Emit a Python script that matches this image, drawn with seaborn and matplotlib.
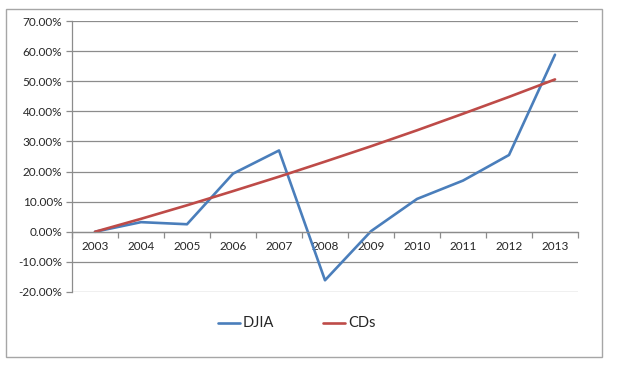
import matplotlib
matplotlib.use("Agg")
import matplotlib.pyplot as plt
import seaborn as sns
import pandas as pd
from matplotlib.patches import Rectangle
from matplotlib.ticker import FuncFormatter, FixedLocator

years = ["2003", "2004", "2005", "2006", "2007", "2008", "2009", "2010", "2011", "2012", "2013"]
djia = [0.0, 3.2, 2.5, 19.3, 27.0, -16.1, 0.2, 10.9, 17.0, 25.5, 58.8]
cds = [0.0, 4.3, 8.8, 13.5, 18.3, 23.3, 28.4, 33.7, 39.2, 44.8, 50.6]
yticks = [-20, -10, 0, 10, 20, 30, 40, 50, 60, 70]

df = pd.DataFrame({
    "year": years * 2,
    "value": djia + cds,
    "series": ["DJIA"] * len(years) + ["CDs"] * len(years),
})

sns.set_theme(style="white")
plt.rcParams["font.family"] = ["Lato", "DejaVu Sans"]

fig = plt.figure(figsize=(6.19, 3.67), dpi=100)
fig.patch.set_facecolor("white")
fig.patches.append(Rectangle((6 / 619, 1 - 357 / 367), 596 / 619, 348 / 367,
                             transform=fig.transFigure, fill=False,
                             edgecolor="#a6a6a6", linewidth=1.0))

ax = fig.add_axes([72 / 619, 1 - 292 / 367, (578 - 72) / 619, (292 - 21) / 367])
grid_c = "#8c8c8c"
for v in yticks:
    ax.axhline(v, color=grid_c, linewidth=0.9, zorder=0)

palette = {"DJIA": "#4a7ebb", "CDs": "#be4b48"}
sns.lineplot(data=df, x="year", y="value", hue="series", palette=palette,
             linewidth=1.9, ax=ax, legend=False, sort=False)

ax.set_xlim(-0.5, len(years) - 0.5)
ax.set_ylim(-20, 70)
ax.set_yticks(yticks)
ax.yaxis.set_major_formatter(FuncFormatter(lambda v, p: f"{v:.2f}%"))
ax.set_xlabel("")
ax.set_ylabel("")

for s in ["top", "right"]:
    ax.spines[s].set_visible(False)
ax.spines["left"].set_color(grid_c)
ax.spines["left"].set_linewidth(0.9)
ax.spines["bottom"].set_position(("data", 0))
ax.spines["bottom"].set_color(grid_c)
ax.spines["bottom"].set_linewidth(0.9)

ax.tick_params(axis="y", which="major", length=4, width=0.9, color=grid_c,
               labelsize=8.5, labelcolor="#262626", pad=3, left=True)
ax.set_xticks(range(len(years)))
ax.set_xticklabels(years)
ax.tick_params(axis="x", which="major", length=0, labelsize=8.5,
               labelcolor="#262626", pad=7)
ax.xaxis.set_minor_locator(FixedLocator([i - 0.5 for i in range(len(years) + 1)]))
ax.tick_params(axis="x", which="minor", length=4, width=0.9, color=grid_c,
               direction="out", bottom=True)

# legend
lx = [218, 323]
names = ["DJIA", "CDs"]
for x0, n in zip(lx, names):
    y = 1 - 323 / 367
    fig.add_artist(plt.Line2D([x0 / 619, (x0 + 22) / 619], [y, y],
                              transform=fig.transFigure, color=palette[n],
                              linewidth=1.9))
    fig.text((x0 + 25) / 619, y, n, fontsize=10.5, color="#262626",
             va="center", ha="left")

fig.savefig("out.png", dpi=100, facecolor="white")
